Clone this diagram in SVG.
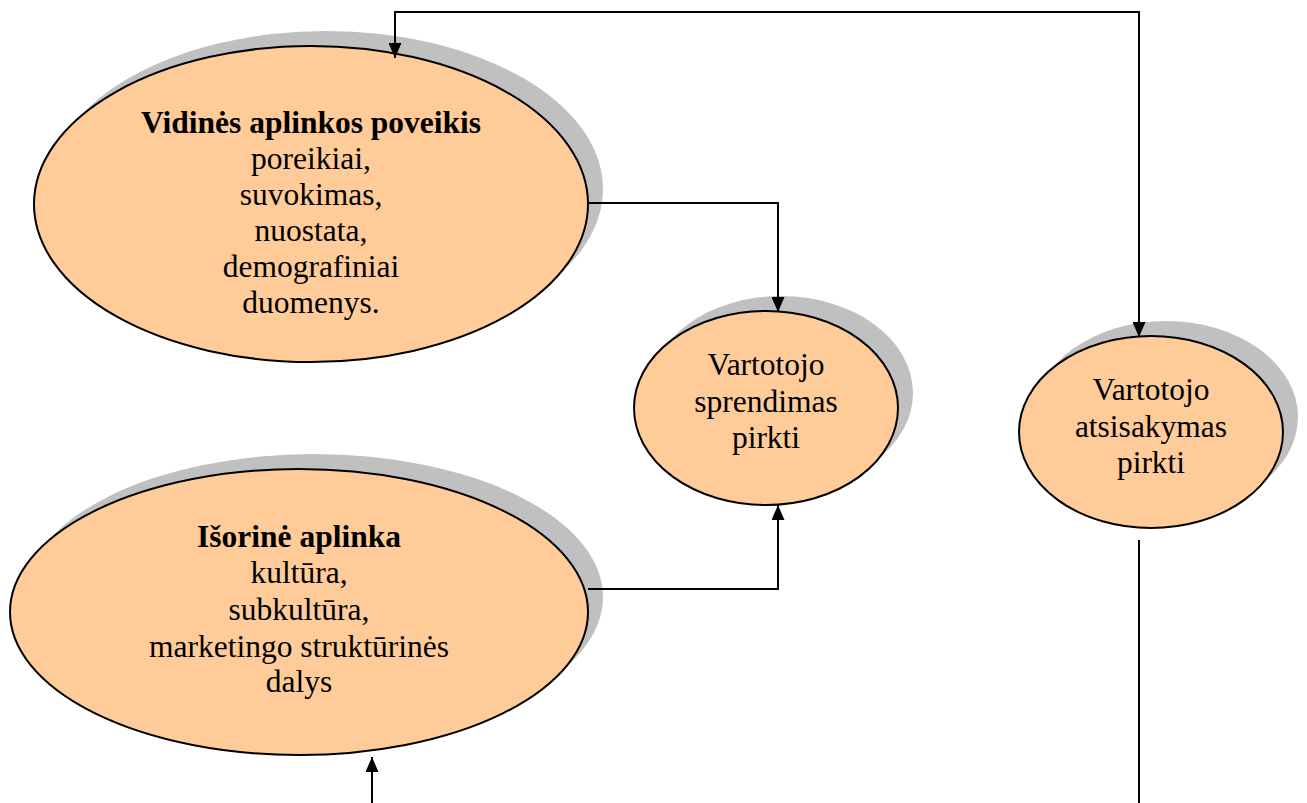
<svg xmlns="http://www.w3.org/2000/svg" width="1307" height="803" viewBox="0 0 1307 803">
<style>
.shadow{fill:#c0c0c0;stroke:none}
.node{fill:#ffcc99;stroke:#000;stroke-width:2}
.t{font-family:"Liberation Serif","Times New Roman",serif;font-size:31.5px;fill:#000;text-anchor:middle}
.b{font-weight:bold}
.c{fill:none;stroke:#000;stroke-width:2}
</style>
<defs>
<marker id="arr" viewBox="0 0 15 13" refX="15" refY="6.5" markerWidth="15" markerHeight="13" markerUnits="userSpaceOnUse" orient="auto-start-reverse">
<path d="M0,0 L15,6.5 L0,13 z" fill="#000"/>
</marker>
</defs>
<rect width="1307" height="803" fill="#fff"/>
<g id="n-vidines">
<ellipse class="shadow" cx="326" cy="189" rx="277" ry="158"/>
<ellipse class="node" cx="311" cy="204" rx="277" ry="158"/>
<text class="t b" x="311" y="133">Vidinės aplinkos poveikis</text>
<text class="t" x="311" y="169">poreikiai,</text>
<text class="t" x="311" y="205">suvokimas,</text>
<text class="t" x="311" y="241">nuostata,</text>
<text class="t" x="311" y="277">demografiniai</text>
<text class="t" x="311" y="313">duomenys.</text>
</g>
<g id="n-sprendimas">
<ellipse class="shadow" cx="781" cy="393" rx="132" ry="97"/>
<ellipse class="node" cx="766" cy="408" rx="132" ry="97"/>
<text class="t" x="766" y="375">Vartotojo</text>
<text class="t" x="766" y="412">sprendimas</text>
<text class="t" x="766" y="448">pirkti</text>
</g>
<g id="n-atsisakymas">
<ellipse class="shadow" cx="1166" cy="417" rx="132" ry="96"/>
<ellipse class="node" cx="1151" cy="432" rx="132" ry="96"/>
<text class="t" x="1151" y="400">Vartotojo</text>
<text class="t" x="1151" y="437">atsisakymas</text>
<text class="t" x="1151" y="473">pirkti</text>
</g>
<g id="n-isorine">
<ellipse class="shadow" cx="314" cy="597" rx="289" ry="143"/>
<ellipse class="node" cx="299" cy="612" rx="289" ry="143"/>
<text class="t b" x="299" y="547">Išorinė aplinka</text>
<text class="t" x="299" y="583">kultūra,</text>
<text class="t" x="299" y="620">subkultūra,</text>
<text class="t" x="299" y="657">marketingo struktūrinės</text>
<text class="t" x="299" y="692">dalys</text>
</g>
<g id="connectors">
<path class="c" d="M395,58 L395,12 L1139,12 L1139,337" marker-start="url(#arr)" marker-end="url(#arr)"/>
<path class="c" d="M588,203 L778,203 L778,312" marker-end="url(#arr)"/>
<path class="c" d="M588,589 L778,589 L778,505" marker-end="url(#arr)"/>
<path class="c" d="M1139,540 L1139,803"/>
<path class="c" d="M372,803 L372,757" marker-end="url(#arr)"/>
</g>
</svg>
